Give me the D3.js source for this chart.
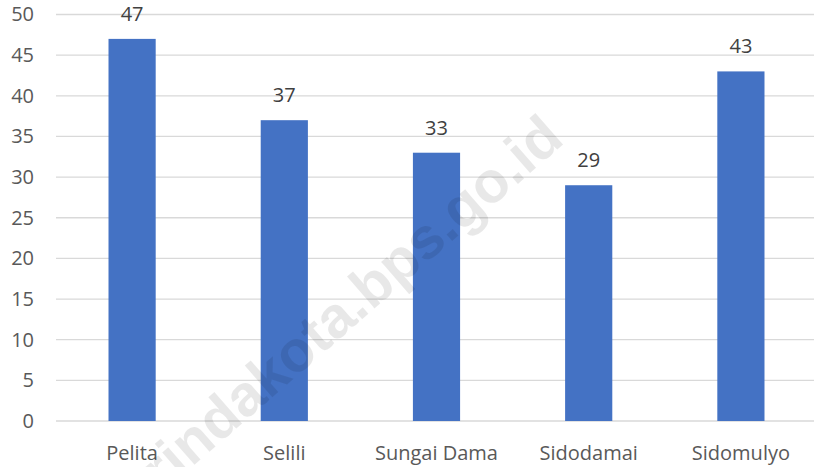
<!DOCTYPE html>
<html>
<head>
<meta charset="utf-8">
<script src="https://cdn.jsdelivr.net/npm/d3@7"></script>
<style>
  body { margin: 0; background: #fff; }
  text { font-family: "Open Sans", sans-serif; }
</style>
</head>
<body>
<div id="chart"></div>
<script>
// Data
let categories = ['Pelita', 'Selili', 'Sungai Dama', 'Sidodamai', 'Sidomulyo']
let values = [47, 37, 33, 29, 43]
let yTicks = [0, 5, 10, 15, 20, 25, 30, 35, 40, 45, 50]

let size = { width: 814, height: 467 }

let svg = d3.select('#chart').append('svg')
  .attr('width', size.width)
  .attr('height', size.height)

// Scales
let x = d3.scaleBand()
  .domain(categories)
  .range([ 56, 817 ])
  .paddingInner(0.69)
  .paddingOuter(0.345)

let y = d3.scaleLinear()
  .domain([ 0, 50 ])
  .range([ 421, 14.5 ])

// Gridlines
svg.append('g')
  .selectAll('line')
  .data(yTicks)
  .enter()
  .append('line')
  .attr('x1', 56)
  .attr('x2', 814)
  .attr('y1', d => y(d))
  .attr('y2', d => y(d))
  .style('stroke', '#d9d9d9')
  .style('stroke-width', '1.3px')

// Y axis labels
let yAxis = svg.append('g')
  .attr('transform', 'translate(34, 0)')
  .call(d3.axisLeft(y).tickValues(yTicks).tickSize(0).tickPadding(0))
yAxis.select('.domain').remove()
yAxis.selectAll('text')
  .style('font-size', '20px')
  .style('fill', '#595959')

// Bars
svg.selectAll('.bar')
  .data(values)
  .enter()
  .append('rect')
  .attr('class', 'bar')
  .attr('x', (d, i) => x(categories[i]))
  .attr('width', x.bandwidth())
  .attr('y', d => y(d))
  .attr('height', d => y(0) - y(d))
  .style('fill', '#4472c4')

// Value labels
svg.selectAll('.label')
  .data(values)
  .enter()
  .append('text')
  .attr('class', 'label')
  .attr('x', (d, i) => x(categories[i]) + x.bandwidth() / 2)
  .attr('y', d => y(d) - 18)
  .attr('text-anchor', 'middle')
  .style('font-size', '20px')
  .style('fill', '#404040')
  .text(d => d)

// X axis labels
let xAxis = svg.append('g')
  .attr('transform', 'translate(0, 446)')
  .call(d3.axisBottom(x).tickSize(0).tickPadding(0))
xAxis.select('.domain').remove()
xAxis.selectAll('text')
  .style('font-size', '20px')
  .style('fill', '#595959')

// Watermark
svg.append('text')
  .attr('transform', 'translate(566, 142) rotate(-41)')
  .attr('text-anchor', 'end')
  .style('font-family', '"Liberation Sans", Arial, sans-serif')
  .style('font-weight', 'bold')
  .style('font-size', '58px')
  .style('fill', '#000')
  .style('fill-opacity', 0.09)
  .text('samarindakota.bps.go.id')
</script>
</body>
</html>
